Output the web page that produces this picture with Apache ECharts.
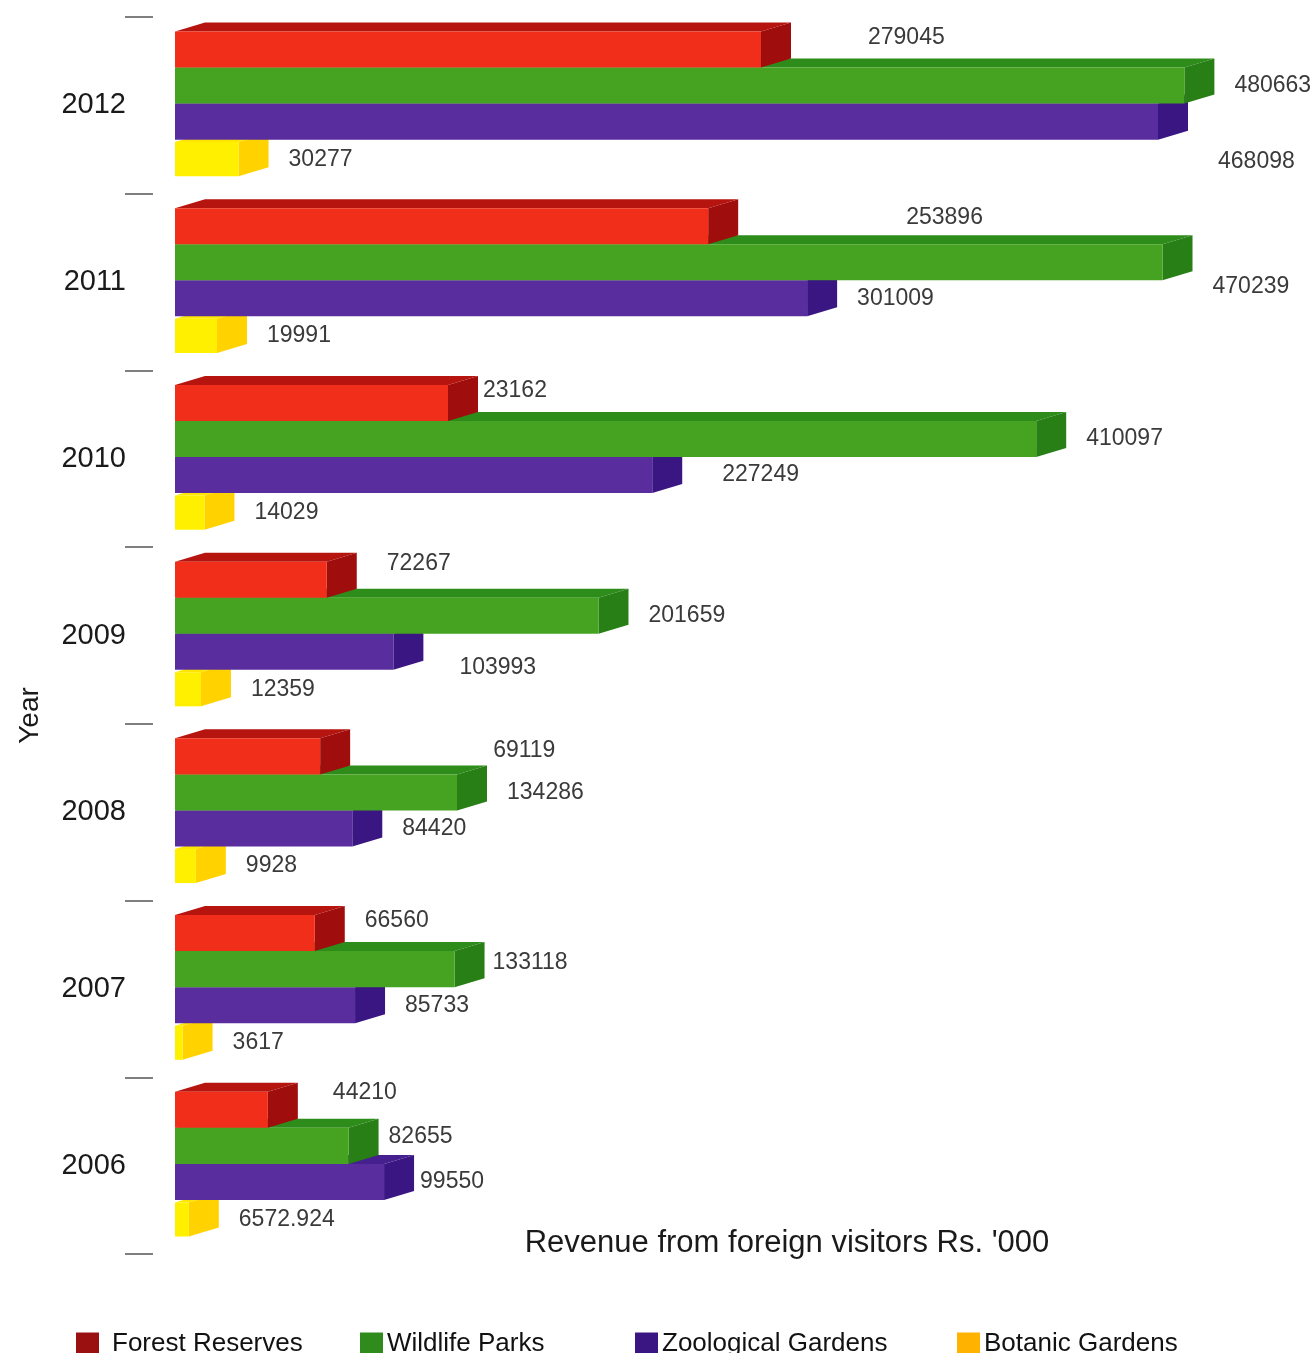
<!DOCTYPE html>
<html>
<head>
<meta charset="utf-8">
<script src="https://cdn.jsdelivr.net/npm/echarts@6/dist/echarts.min.js"></script>
<style>
  html, body { margin: 0; padding: 0; background: #ffffff; }
  #chart { width: 1310px; height: 1353px; }
</style>
</head>
<body>
<div id="chart"></div>
<script>
// ---------------- data ----------------
const years = ['2006', '2007', '2008', '2009', '2010', '2011', '2012'];
const seriesNames = ['Forest Reserves', 'Wildlife Parks', 'Zoological Gardens', 'Botanic Gardens'];
const forestReserves = [44210, 66560, 69119, 72267, 130000, 253896, 279045];
const wildlifeParks = [82655, 133118, 134286, 201659, 410097, 470239, 480663];
const zoologicalGardens = [99550, 85733, 84420, 103993, 227249, 301009, 468098];
const botanicGardens = [6572.924, 3617, 9928, 12359, 14029, 19991, 30277];
// label text printed on the chart where it differs from the bar length
const printedLabelOverrides = { 'Forest Reserves|2010': '23162' };
const xAxisTitle = "Revenue from foreign visitors Rs. '000";
const yAxisTitle = 'Year';

// ---------------- style ----------------
const FONT = '"Liberation Sans", Arial, Helvetica, sans-serif';
const faces = {
  'Forest Reserves':    { front: '#f02e1a', top: '#b5140f', side: '#a00d0d', legend: '#9a1010' },
  'Wildlife Parks':     { front: '#46a321', top: '#2e8c1b', side: '#277f16', legend: '#2e8b1c' },
  'Zoological Gardens': { front: '#5a2d9f', top: '#46208e', side: '#3a1683', legend: '#3a1683' },
  'Botanic Gardens':    { front: '#fff000', top: '#ffe600', side: '#ffd200', legend: '#ffb300' }
};
// fraction of band: top of front face, height of front face
const slots = {
  'Forest Reserves':    { top: 0.082, h: 0.204, labelDy: -12 },
  'Wildlife Parks':     { top: 0.286, h: 0.204, labelDy: 0 },
  'Zoological Gardens': { top: 0.490, h: 0.204, labelDy: 0 },
  'Botanic Gardens':    { top: 0.708, h: 0.193, labelDy: 0 }
};
const depthX = 30, depthY = -9, labelGap = 20;
const labelNudge = {
  'Forest Reserves|2012': [57, 0],
  'Forest Reserves|2011': [148, 3],
  'Forest Reserves|2010': [-15, 0],
  'Forest Reserves|2009': [10, -4],
  'Forest Reserves|2008': [123, 6],
  'Forest Reserves|2006': [15, -5],
  'Wildlife Parks|2011': [0, 24],
  'Wildlife Parks|2006': [-10, -9],
  'Wildlife Parks|2007': [-12, -6],
  'Zoological Gardens|2012': [10, 40],
  'Zoological Gardens|2010': [20, 0],
  'Zoological Gardens|2009': [16, 16],
  'Zoological Gardens|2006': [-14, 0]
};

const valuesBySeries = {
  'Forest Reserves': forestReserves,
  'Wildlife Parks': wildlifeParks,
  'Zoological Gardens': zoologicalGardens,
  'Botanic Gardens': botanicGardens
};

function makeRenderItem(name) {
  const f = faces[name], s = slots[name];
  return function (params, api) {
    const v = api.value(0);
    const ci = api.value(1);
    const p0 = api.coord([0, ci]);
    const p1 = api.coord([v, ci]);
    const band = api.size([0, 1])[1];
    const bandTop = p0[1] - band / 2;
    const y0 = bandTop + band * s.top;
    const h = band * s.h;
    const x0 = p0[0], x1 = p1[0];
    const key = name + '|' + years[ci];
    const txt = printedLabelOverrides[key] !== undefined ? printedLabelOverrides[key] : String(v);
    const nudge = labelNudge[key] || [0, 0];
    return {
      type: 'group',
      children: [
        { type: 'polygon', shape: { points: [[x0, y0], [x1, y0], [x1 + depthX, y0 + depthY], [x0 + depthX, y0 + depthY]] },
          style: { fill: f.top } },
        { type: 'polygon', shape: { points: [[x1, y0], [x1 + depthX, y0 + depthY], [x1 + depthX, y0 + h + depthY], [x1, y0 + h]] },
          style: { fill: f.side } },
        { type: 'rect', shape: { x: x0, y: y0, width: x1 - x0, height: h },
          style: { fill: f.front } },
        { type: 'text', z2: 100,
          style: { text: txt, x: x1 + depthX + labelGap + nudge[0], y: y0 + h / 2 + s.labelDy + nudge[1],
                   fill: '#3a3a3a', fontSize: 23, fontFamily: FONT, align: 'left', verticalAlign: 'middle' } }
      ]
    };
  };
}

const zOrder = { 'Forest Reserves': 5, 'Wildlife Parks': 4, 'Zoological Gardens': 3, 'Botanic Gardens': 2 };

const series = seriesNames.map(name => ({
  name: name,
  type: 'custom',
  z: zOrder[name],
  renderItem: makeRenderItem(name),
  encode: { x: 0, y: 1 },
  itemStyle: { color: faces[name].legend },
  data: valuesBySeries[name].map((v, i) => [v, i])
}));

const legendLeft = [76, 360, 635, 957];
const legends = seriesNames.map((name, i) => ({
  data: [name],
  left: legendLeft[i],
  top: 1331,
  padding: 0,
  orient: 'horizontal',
  icon: 'rect',
  itemWidth: 23,
  itemHeight: 23,
  selectedMode: false,
  textStyle: { fontSize: 26, color: '#111', fontFamily: FONT, padding: i === 0 ? [0, 0, 0, 8] : [0, 0, 0, -1] }
}));

const chart = echarts.init(document.getElementById('chart'), null, { renderer: 'canvas' });
chart.setOption({
  animation: false,
  backgroundColor: '#ffffff',
  grid: { left: 175, right: 85, top: 17, bottom: 99, containLabel: false, outerBoundsMode: 'none' },
  xAxis: {
    type: 'value', min: 0, max: 500000,
    axisLine: { show: false }, axisTick: { show: false }, axisLabel: { show: false }, splitLine: { show: false },
    name: xAxisTitle, nameLocation: 'middle', nameGap: -26,
    nameTextStyle: { fontSize: 31, color: '#1a1a1a', fontFamily: FONT, padding: [0, 0, 0, 174] }
  },
  yAxis: {
    type: 'category', data: years, offset: 22,
    axisLine: { show: false },
    axisTick: { show: true, length: 50, lineStyle: { color: '#555', width: 1.5, type: [28, 22], dashOffset: 28 } },
    axisLabel: { fontSize: 29, color: '#1a1a1a', margin: 27, fontFamily: FONT },
    splitLine: { show: false },
    name: yAxisTitle, nameLocation: 'middle', nameRotate: 90, nameGap: 109,
    nameTextStyle: { fontSize: 28, color: '#1a1a1a', fontFamily: FONT, padding: [0, 160, 0, 0] }
  },
  legend: legends,
  series: series
});
</script>
</body>
</html>
